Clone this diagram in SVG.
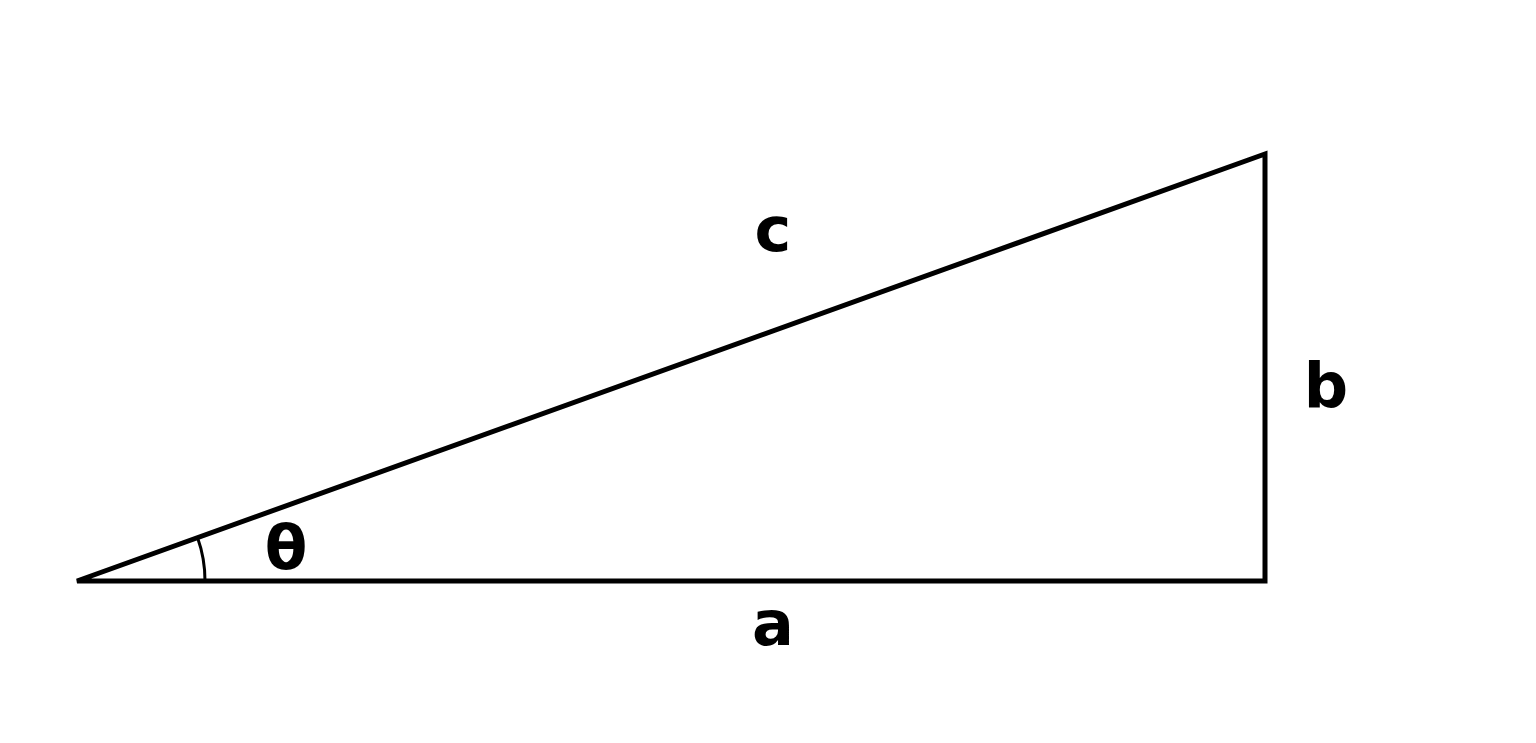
<svg xmlns="http://www.w3.org/2000/svg" width="1536" height="743" viewBox="0 0 1536 743">
<style>
.lbl{font-family:"DejaVu Sans",sans-serif;font-weight:bold;font-size:62px;fill:#000;text-anchor:middle}
.edge{fill:none;stroke:#000;stroke-width:5;stroke-linejoin:miter}
</style>
<rect width="1536" height="743" fill="#fff"/>
<g id="connectors">
<path class="edge" d="M77,581 L1265,581 L1265,154 Z"/>
<path d="M205,581 A128,128 0 0 0 197.5,537.5" fill="none" stroke="#000" stroke-width="3"/>
</g>
<g id="label-c"><text class="lbl" x="773" y="251">c</text></g>
<g id="label-b"><text class="lbl" x="1326" y="407">b</text></g>
<g id="label-a"><text class="lbl" x="773" y="645">a</text></g>
<g id="label-theta"><text class="lbl" x="286" y="569">θ</text></g>
</svg>
